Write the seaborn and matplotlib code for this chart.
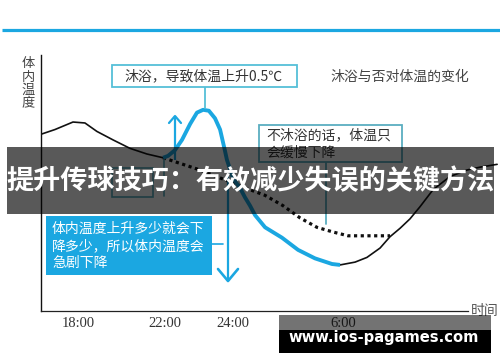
import numpy as np
import pandas as pd
import matplotlib
matplotlib.use("Agg")
import matplotlib.pyplot as plt
import matplotlib.transforms as mtransforms
from matplotlib.patches import Rectangle
from matplotlib.lines import Line2D
import seaborn as sns

# ---------------- data (hours since midnight of day 1, body temperature in C) ----
before_hours = [16.30, 16.94, 17.77, 18.32, 18.87, 19.61, 20.39, 21.17, 21.91]
before_temp = [37.38, 37.43, 37.51, 37.50, 37.41, 37.32, 37.23, 37.17, 37.13]

bath_hours = [21.91, 22.09, 22.29, 22.50, 22.74, 22.94, 23.12, 23.29, 23.47, 23.62,
              23.76, 23.82, 24.00, 24.38, 24.65, 24.93, 25.20, 25.75, 26.67, 27.55,
              28.47, 29.40, 29.84]
bath_temp = [37.13, 37.15, 37.21, 37.32, 37.49, 37.61, 37.64, 37.63, 37.55, 37.43,
             37.21, 37.11, 36.91, 36.81, 36.71, 36.62, 36.52, 36.39, 36.28, 36.15,
             36.06, 36.00, 35.99]

after_hours = [29.84, 30.67, 31.33, 32.06, 32.61, 33.17, 33.72, 34.28, 35.00, 35.94,
               36.89, 37.61, 38.56]
after_temp = [35.99, 36.02, 36.07, 36.17, 36.29, 36.38, 36.48, 36.61, 36.79, 36.93,
              37.00, 37.03, 37.06]

nobath_hours = [21.91, 23.03, 24.93, 25.75, 26.73, 27.66, 28.58, 29.46, 30.28, 31.50, 32.61]
nobath_temp = [37.13, 37.00, 36.79, 36.73, 36.62, 36.49, 36.39, 36.34, 36.30, 36.30, 36.30]

tick_hours = [18, 22, 24, 30]
tick_labels = ["18:00", "22:00", "24:00", "6:00"]

y_label = "体内温度"
x_label = "时间"
title_text = "沐浴与否对体温的变化"
note_bath = "沐浴，导致体温上升0.5℃"
note_nobath = "不沐浴的话，体温只\n会缓慢下降"
note_drop = "体内温度上升多少就会下\n降多少，所以体内温度会\n急剧下降"
banner_text = "提升传球技巧：有效减少失误的关键方法"
watermark_text = "www.ios-pagames.com"

# ---------------- style ----------------
sns.set_theme(style="white")
plt.rcParams["font.family"] = ["Noto Sans CJK SC", "DejaVu Sans"]

BLUE = "#1ba7e1"
TEAL = "#55bfd8"
CJK = ["Noto Sans CJK SC", "DejaVu Sans"]

fig = plt.figure(figsize=(5.0, 3.62), dpi=100)
fig.patch.set_facecolor("white")

# schematic (non-linear) time axis, as in the original drawing
knot_h = np.array([16.3, 18.0, 22.0, 24.0, 30.0, 38.72])
knot_p = np.array([0.0, 37.0, 124.0, 192.0, 302.0, 459.0])


def fwd(h):
    return np.interp(h, knot_h, knot_p)


def inv(p):
    return np.interp(p, knot_p, knot_h)


ax = fig.add_axes([41 / 500, 1 - 311 / 362, 459 / 500, 256 / 362])
ax.set_xscale("function", functions=(fwd, inv))
ax.set_facecolor("none")

df_before = pd.DataFrame({"h": before_hours, "t": before_temp})
df_bath = pd.DataFrame({"h": bath_hours, "t": bath_temp})
df_after = pd.DataFrame({"h": after_hours, "t": after_temp})
df_nobath = pd.DataFrame({"h": nobath_hours, "t": nobath_temp})

sns.lineplot(data=df_nobath, x="h", y="t", ax=ax, color="#111111", lw=2.3,
             linestyle=(0, (1.0, 1.1)), solid_capstyle="butt")
sns.lineplot(data=df_before, x="h", y="t", ax=ax, color="#111111", lw=1.2,
             solid_joinstyle="round")
sns.lineplot(data=df_after, x="h", y="t", ax=ax, color="#111111", lw=1.2,
             solid_joinstyle="round")
sns.lineplot(data=df_bath, x="h", y="t", ax=ax, color=BLUE, lw=2.8,
             solid_capstyle="butt", solid_joinstyle="round")

ax.set_xlim(16.3, 38.72)
ax.set_ylim(35.5, 38.223)
ax.set_xticks(tick_hours)
ax.set_xticklabels(tick_labels, fontfamily="Liberation Serif", fontsize=10.5, color="#333333")
ax.set_yticks([])
ax.tick_params(axis="x", length=0, pad=4)
ax.set_xlabel("")
ax.set_ylabel("")
for s in ["top", "right"]:
    ax.spines[s].set_visible(False)
ax.spines["left"].set_color("#111111")
ax.spines["left"].set_linewidth(1.0)
ax.spines["bottom"].set_color("#222222")
ax.spines["bottom"].set_linewidth(0.9)
ax.spines["bottom"].set_bounds(16.3, 36.94)

# pixel transform for annotations (x right, y down, origin top-left)
P = mtransforms.Affine2D().scale(1 / 500, -1 / 362).translate(0, 1) + fig.transFigure


def rect(x0, y0, x1, y1, **kw):
    r = Rectangle((x0, y0), x1 - x0, y1 - y0, transform=P, **kw)
    fig.add_artist(r)
    return r


def line(xs, ys, **kw):
    l = Line2D(xs, ys, transform=P, **kw)
    fig.add_artist(l)
    return l


def text(x, y, s, **kw):
    kw.setdefault("family", CJK)
    return fig.text(x, y, s, transform=P, **kw)


# top blue rule
line([2, 500], [30, 30], color=BLUE, lw=2.3, solid_capstyle="butt")

# axis labels
text(28, 84, "\n".join(y_label), ha="center", va="center", fontsize=9.5,
     color="#444444", linespacing=1.05)
text(485, 311, x_label, ha="center", va="center", fontsize=10, color="#555555")

# title
text(400, 77, title_text, ha="center", va="center", fontsize=10, color="#444444")

# box 1
rect(112, 65, 297, 87, facecolor="white", edgecolor=TEAL, lw=1.3, zorder=3)
text(124, 76.5, note_bath, ha="left", va="center", fontsize=10, color="#333333", zorder=4)
line([205, 205], [87, 108], color=TEAL, lw=1.3)

# box 2
rect(259, 125, 402, 162, facecolor="white", edgecolor="#5aaec0", lw=1.3, zorder=3)
text(266, 144, note_nobath, ha="left", va="center", fontsize=10, color="#333333",
     linespacing=1.25, zorder=4)
line([326, 326], [162, 224], color="#5aaec0", lw=1.3)

# small box almost hidden under the banner
rect(112, 168, 153, 197, facecolor="white", edgecolor="#5aaec0", lw=1.2, zorder=1.5)
line([164, 164], [160, 196], color="#5aaec0", lw=1.2)

# box 3 (blue filled)
rect(46, 216, 212, 275, facecolor=BLUE, edgecolor="none", zorder=3)
text(52, 246, note_drop, ha="left", va="center", fontsize=10, color="white",
     linespacing=1.3, zorder=4)
line([212, 223], [244, 244], color=BLUE, lw=1.2)

# up arrow
line([175, 175], [160, 116], color=BLUE, lw=1.6, solid_capstyle="butt")
line([169, 175, 181], [123, 116, 123], color=BLUE, lw=1.6)
# down arrow
line([228, 228], [175, 281], color=BLUE, lw=1.6, solid_capstyle="butt")
line([218, 228, 238], [269, 281, 269], color=BLUE, lw=1.9)

# banner overlay
rect(7, 147, 494, 214, facecolor="black", edgecolor="none", alpha=0.65, zorder=10)
text(250.5, 181, banner_text, ha="center", va="center", fontsize=19.5,
     fontweight="bold", color="white", zorder=11)

# watermark
rect(279, 315, 491, 330, facecolor="black", edgecolor="none", alpha=0.55, zorder=10)
rect(279, 330, 491, 353, facecolor="black", edgecolor="none", zorder=10)
text(384, 337.5, watermark_text, ha="center", va="center", fontsize=10.6,
     fontweight="bold", color="white", family=["DejaVu Sans"], zorder=11)

fig.savefig("out.png", dpi=100, facecolor="white")
